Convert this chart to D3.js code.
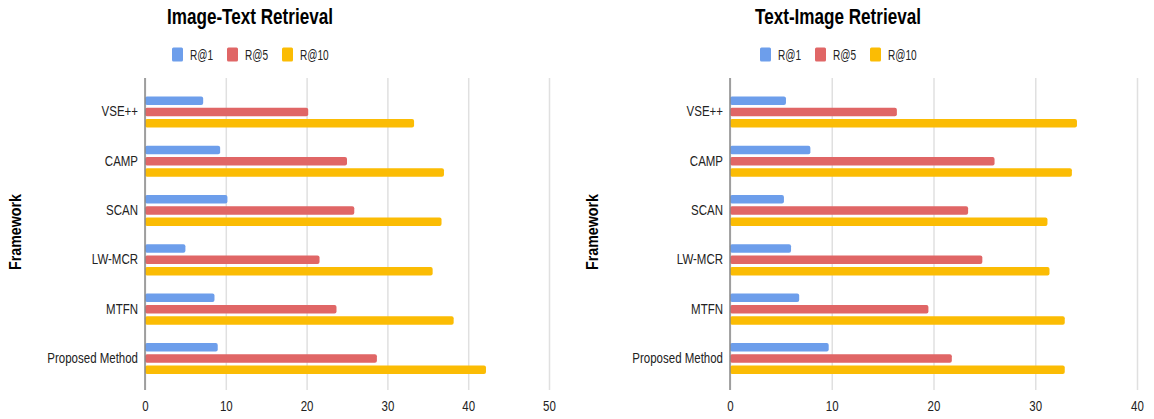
<!DOCTYPE html>
<html>
<head>
<meta charset="utf-8">
<script src="https://cdn.jsdelivr.net/npm/d3@7"></script>
<style>
  body { margin: 0; background: #fff; }
  svg { display: block; }
  .narrow { font-family: "Liberation Sans", Arial, sans-serif; }
  .d3Title { font-weight: bold; font-size: 22.5px; fill: #000; }
  .d3LegendTxt { font-size: 14px; fill: #222; }
  .d3TickTxt { font-size: 14px; fill: #222; }
  .d3AxisTitle { font-family: "Liberation Sans", Arial, sans-serif; font-weight: bold; font-size: 17px; fill: #000; }
</style>
</head>
<body>
<div id="chart"></div>
<script>
// categories + series
var categories = ["VSE++", "CAMP", "SCAN", "LW-MCR", "MTFN", "Proposed Method"];
var seriesNames = ["R@1", "R@5", "R@10"];
var seriesColors = ["#6d9eeb", "#e06666", "#fbbc04"];

var imgTxtR1  = [7.2, 9.3, 10.2, 5.0, 8.6, 9.0];
var imgTxtR5  = [20.2, 25.0, 25.9, 21.6, 23.7, 28.7];
var imgTxtR10 = [33.3, 37.0, 36.7, 35.6, 38.2, 42.2];
var imgTxtTicks = [0, 10, 20, 30, 40, 50];

var txtImgR1  = [5.5, 7.9, 5.3, 6.0, 6.8, 9.7];
var txtImgR5  = [16.4, 26.0, 23.4, 24.8, 19.5, 21.8];
var txtImgR10 = [34.1, 33.6, 31.2, 31.4, 32.9, 32.9];
var txtImgTicks = [0, 10, 20, 30, 40];

var svg = d3.select("#chart").append("svg")
    .attr("width", 1154)
    .attr("height", 419);

var plotTop = 78, plotBottom = 390;

function buildRows(r1, r5, r10){
	var rows = [];
	for(var i = 0; i < categories.length; i++){
		rows.push({label: categories[i], vals: [r1[i], r5[i], r10[i]]});
	}
	return rows;
}

function drawPanel(opt){
	var rows = buildRows(opt.r1, opt.r5, opt.r10);
	var x = d3.scaleLinear().domain([0, opt.ticks[opt.ticks.length-1]]).range([opt.x0, opt.x1]);
	var y = d3.scaleBand().domain(categories).range([87.3, 383.1]);
	var inner = d3.scaleBand().domain(seriesNames)
		.range([(y.bandwidth()-31.1)/2, (y.bandwidth()+31.1)/2])
		.paddingInner(0.25);

	var g = svg.append("g");

	// title
	g.append("text")
		.attr("class", "d3Title narrow")
		.attr("data-squeeze", 0.76)
		.attr("x", opt.cx).attr("y", 24)
		.attr("text-anchor", "middle")
		.text(opt.title);

	// legend
	var lg = g.append("g").attr("transform", "translate(" + (opt.cx - 78) + ",0)");
	var item = lg.selectAll("g").data(seriesNames).enter().append("g")
		.attr("transform", function(d, i){ return "translate(" + (i*55) + ",0)"; });
	item.append("rect")
		.attr("x", 0).attr("y", 47.5)
		.attr("width", 11).attr("height", 14)
		.attr("rx", 1.5)
		.attr("fill", function(d, i){ return seriesColors[i]; });
	item.append("text")
		.attr("class", "d3LegendTxt narrow")
		.attr("data-squeeze", 0.72)
		.attr("x", 18).attr("y", 59.5)
		.text(function(d){ return d; });

	// gridlines
	g.append("g")
		.attr("class", "d3ChartYGridline")
		.attr("transform", "translate(0," + plotBottom + ")")
		.call(d3.axisBottom(x).tickValues(opt.ticks).tickSize(-(plotBottom-plotTop)).tickFormat(""))
		.call(function(s){
			s.select(".domain").remove();
			s.selectAll("line").attr("stroke", "#e0e0e0").attr("stroke-width", 1.5);
		});

	// bars
	var grp = g.selectAll(".d3BarGrp").data(rows).enter().append("g")
		.attr("class", "d3BarGrp")
		.attr("transform", function(d){ return "translate(0," + y(d.label) + ")"; });
	grp.selectAll("rect")
		.data(function(d){ return d.vals.map(function(v, i){ return {s: seriesNames[i], v: v, c: seriesColors[i]}; }); })
		.enter().append("rect")
		.attr("x", x(0))
		.attr("y", function(d){ return inner(d.s); })
		.attr("width", function(d){ return x(d.v) - x(0); })
		.attr("height", inner.bandwidth())
		.attr("rx", 2)
		.attr("fill", function(d){ return d.c; });

	// baseline
	g.append("line")
		.attr("x1", x(0)).attr("x2", x(0))
		.attr("y1", plotTop).attr("y2", plotBottom)
		.attr("stroke", "#888").attr("stroke-width", 1.5);

	// bottom tick labels
	g.append("g")
		.attr("class", "d3BottomAxis")
		.attr("transform", "translate(0," + plotBottom + ")")
		.call(d3.axisBottom(x).tickValues(opt.ticks).tickSize(0).tickPadding(11))
		.call(function(s){
			s.select(".domain").remove();
			s.selectAll("text").attr("class", "d3TickTxt narrow").attr("font-family", null).attr("font-size", null).attr("fill", null);
		});

	// category labels
	g.append("g")
		.attr("class", "d3LeftAxis")
		.attr("transform", "translate(" + x(0) + ",0)")
		.call(d3.axisLeft(y).tickSize(0).tickPadding(7))
		.call(function(s){
			s.select(".domain").remove();
			s.selectAll("text").attr("class", "d3TickTxt narrow").attr("font-family", null).attr("font-size", null).attr("fill", null);
		});

	// axis title
	g.append("text")
		.attr("class", "d3AxisTitle")
		.attr("transform", "translate(" + opt.fx + ",232) rotate(-90)")
		.attr("text-anchor", "middle")
		.attr("dy", "0.35em")
		.attr("textLength", 76)
		.attr("lengthAdjust", "spacingAndGlyphs")
		.text("Framework");
}

drawPanel({title: "Image-Text Retrieval", cx: 250, x0: 145, x1: 549, fx: 15,
	r1: imgTxtR1, r5: imgTxtR5, r10: imgTxtR10, ticks: imgTxtTicks});
drawPanel({title: "Text-Image Retrieval", cx: 838, x0: 730, x1: 1137, fx: 592,
	r1: txtImgR1, r5: txtImgR5, r10: txtImgR10, ticks: txtImgTicks});

// no Arial Narrow in here, so squeeze the glyphs of the horizontal texts
svg.selectAll(".narrow").each(function(){
	var r = +(this.getAttribute("data-squeeze") || 0.82);
	var w = this.getComputedTextLength();
	this.setAttribute("textLength", w * r);
	this.setAttribute("lengthAdjust", "spacingAndGlyphs");
});
</script>
</body>
</html>
